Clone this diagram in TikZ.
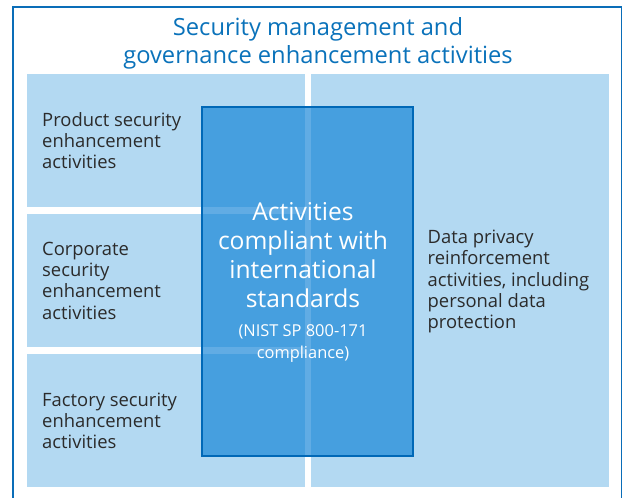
\documentclass[tikz,border=0pt]{standalone}
\usepackage{fontspec}
\setmainfont{Open Sans}
\usetikzlibrary{positioning}
\definecolor{frameblue}{HTML}{0A6DB8}
\definecolor{titleblue}{HTML}{0A72BA}
\definecolor{panelblue}{HTML}{B3D9F2}
\definecolor{stdfill}{RGB}{13,128,214}
\definecolor{stdline}{HTML}{0068B7}
\definecolor{textgray}{HTML}{2B2B2B}
\tikzset{
  panel/.style={fill=panelblue, draw=none, inner sep=0pt, anchor=north west},
  paneltext/.style={anchor=west, align=left, text=textgray, inner sep=0pt,
    font=\fontsize{18.4}{21.3}\selectfont},
  stdbox/.style={fill=stdfill, fill opacity=0.65, draw=stdline, draw opacity=1,
    line width=2pt, inner sep=0pt, anchor=north west},
  stdtext/.style={align=center, text=white, inner sep=0pt}
}
\begin{document}
\begin{tikzpicture}[x=1pt,y=-1pt]
  \useasboundingbox (0,0) rectangle (622,498);
  \clip (0,0) rectangle (622,498);
  % outer frame
  \draw[frameblue, line width=2pt] (13,7) rectangle (622,520);
  \node[align=center, text=titleblue, inner sep=0pt,
    font=\fontsize{23.7}{28.5}\selectfont] (title) at (318,43.5)
    {Security management and\\governance enhancement activities};

  % left and right panels
  \node[panel, minimum width=278pt, minimum height=133pt] (prod) at (27,74) {};
  \node[panel, minimum width=278pt, minimum height=133pt] (corp) at (27,214) {};
  \node[panel, minimum width=278pt, minimum height=133pt] (fact) at (27,354) {};
  \node[panel, minimum width=298pt, minimum height=413pt] (priv) at (311,74) {};

  \node[paneltext, right=15pt of prod.west] (prodtxt)
    {Product security\\enhancement\\activities};
  \node[paneltext, right=15pt of corp.west] (corptxt)
    {Corporate\\security\\enhancement\\activities};
  \node[paneltext, right=15pt of fact.west] (facttxt)
    {Factory security\\enhancement\\activities};

  % standards box on top
  \node[stdbox, minimum width=211pt, minimum height=349pt] (std) at (201,106) {};
  \node[paneltext, right=13.5pt of std.east] (privtxt)
    {Data privacy\\reinforcement\\activities, including\\personal data\\protection};

  \node[stdtext, font=\fontsize{24.6}{29}\selectfont] (stdtxt) at (303,255)
    {Activities\\compliant with\\international\\standards};
  \node[stdtext, font=\fontsize{16.4}{21.5}\selectfont, below=17pt of stdtxt] (nisttxt)
    {(NIST SP 800-171\\compliance)};
\end{tikzpicture}
\end{document}
